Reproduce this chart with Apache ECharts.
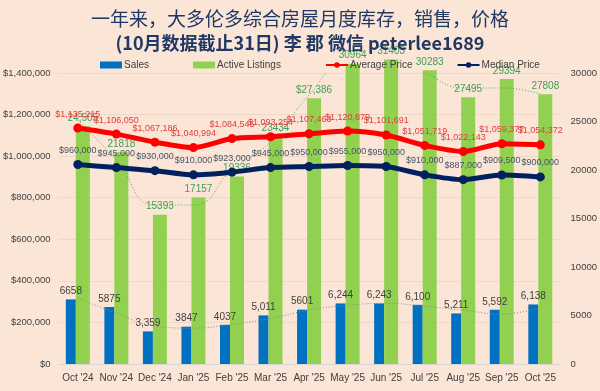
<!DOCTYPE html>
<html><head><meta charset="utf-8">
<script src="https://cdn.jsdelivr.net/npm/echarts@6/dist/echarts.min.js"></script>
<style>html,body{margin:0;padding:0;background:#fbe5d6;}#c{width:600px;height:391px;}</style>
</head><body><div id="c"></div>
<script>
const categories = ["Oct '24","Nov '24","Dec '24","Jan '25","Feb '25","Mar '25","Apr '25","May '25","Jun '25","Jul '25","Aug '25","Sep '25","Oct '25"];
const sales = [6658,5875,3359,3847,4037,5011,5601,6244,6243,6100,5211,5592,6138];
const salesLabels = ["6658","5875","3,359","3847","4037","5,011","5601","6,244","6,243","6,100","5,211","5,592","6,138"];
const activeListings = [24505,21818,15393,17157,19336,23434,27386,30964,31403,30283,27495,29394,27808];
const activeLabels = ["24,505","21818","15393","17157","19336","23434","$27,386","30964","31403","30283","27495","29394","27808"];
const avgPrice = [1135215,1106050,1067186,1040994,1084545,1093254,1107463,1120879,1101691,1051719,1022143,1059377,1054372];
const medianPrice = [960000,945000,930000,910000,923000,945000,950000,955000,950000,910000,887000,909500,900000];
// dotted trend lines
const salesTrend = [6780,5240,3900,3700,4100,4700,5550,6050,6250,5950,5550,5150,5850];
const activeTrend = [25150,21030,16390,16390,20000,22890,27730,31340,31550,30000,28460,28460,27840];
const leftTicks = {min:0,max:1400000,interval:200000};
const rightTicks = {min:0,max:30000,interval:5000};

const chart = echarts.init(document.getElementById('c'));
const fnt = "'Liberation Sans', Arial, sans-serif";
const money = v => '$' + v.toLocaleString('en-US');
chart.setOption({
  backgroundColor:'#fbe5d6',
  animation:false,
  textStyle:{fontFamily:fnt},
  title:[
    {text:'一年来，大多伦多综合房屋月度库存，销售，价格',left:'center',top:4,textStyle:{fontFamily:"'Noto Sans CJK SC'",fontSize:19,fontWeight:'normal',color:'#203864'}},
    {text:'(10月数据截止31日) 李 郡 微信 peterlee1689',left:'center',top:29,textStyle:{fontFamily:"'Noto Sans CJK SC'",fontSize:18,fontWeight:'bold',color:'#203864'}}
  ],
  legend:{
    left:95, top:55, itemGap:44, itemWidth:22, itemHeight:7,
    textStyle:{fontSize:10,color:'#404040',fontFamily:fnt,padding:[0,0,0,-3]},
    data:[
      {name:'Sales',icon:'rect'},
      {name:'Active Listings',icon:'rect'},
      {name:'Average Price'},
      {name:'Median Price'}
    ]
  },
  grid:{left:56,right:33,top:73,bottom:27},
  xAxis:{type:'category',data:categories,
    axisLine:{lineStyle:{color:'#d9d9d9'}},axisTick:{show:false},
    axisLabel:{color:'#404040',fontSize:10,margin:9,interval:0}},
  yAxis:[
    {type:'value',min:leftTicks.min,max:leftTicks.max,interval:leftTicks.interval,
     axisLabel:{color:'#404040',fontSize:9.5,margin:8,formatter:v=>money(v)},
     splitLine:{lineStyle:{color:'#f0d8c8'}},axisLine:{show:false},axisTick:{show:false}},
    {type:'value',min:rightTicks.min,max:rightTicks.max,interval:rightTicks.interval,
     axisLabel:{color:'#404040',fontSize:9.5,margin:11,formatter:v=>String(v)},
     splitLine:{show:false},axisLine:{show:false},axisTick:{show:false}}
  ],
  series:[
    {name:'Sales',type:'bar',yAxisIndex:1,data:sales,barWidth:10,barGap:'0%',
     itemStyle:{color:'#0070c0'},
     label:{show:true,position:'top',distance:3,fontSize:10,color:'#404040',formatter:p=>salesLabels[p.dataIndex]},z:3},
    {name:'Active Listings',type:'bar',yAxisIndex:1,data:activeListings,barWidth:14,clip:false,
     itemStyle:{color:'#92d050'},
     label:{show:true,position:'top',distance:3,fontSize:10,color:'#3f9f55',formatter:p=>activeLabels[p.dataIndex]},z:3},
    {name:'salesTrend',type:'line',yAxisIndex:1,data:salesTrend,smooth:0.5,showSymbol:false,silent:true,
     lineStyle:{color:'#8c8c8c',width:1,type:[1,2]},z:4},
    {name:'activeTrend',type:'line',yAxisIndex:1,data:activeTrend,smooth:0.5,showSymbol:false,silent:true,
     lineStyle:{color:'#4caf50',width:1,type:[1,2]},z:4},
    {name:'Average Price',type:'line',yAxisIndex:0,data:avgPrice,smooth:0.25,
     symbol:'circle',symbolSize:9,lineStyle:{color:'#ff0000',width:5},itemStyle:{color:'#ff0000'},
     label:{show:true,position:'top',distance:5,fontSize:9,color:'#e23c3c',formatter:p=>money(p.value)},z:6},
    {name:'Median Price',type:'line',yAxisIndex:0,data:medianPrice,smooth:0.25,
     symbol:'circle',symbolSize:9,lineStyle:{color:'#002060',width:5},itemStyle:{color:'#002060'},
     label:{show:true,position:'top',distance:5,fontSize:9,color:'#44546a',formatter:p=>money(p.value)},z:6}
  ]
});
</script></body></html>
